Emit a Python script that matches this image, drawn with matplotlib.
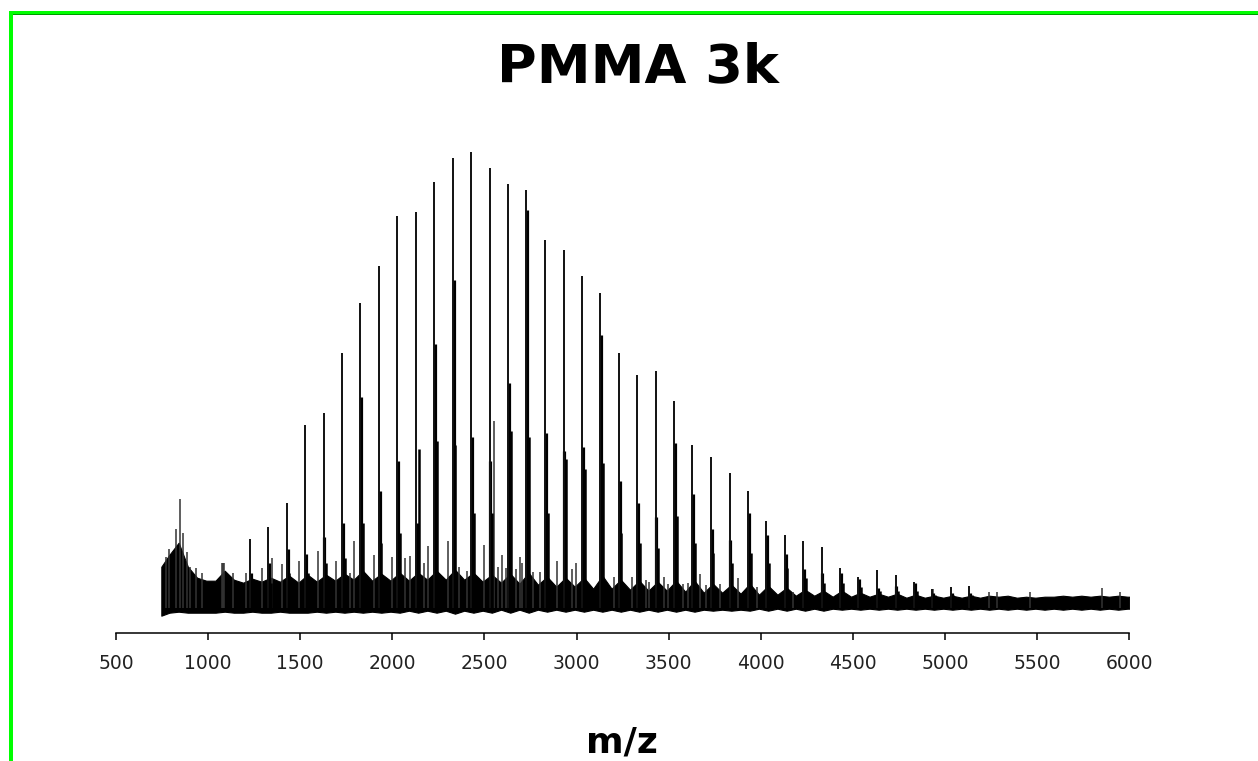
import numpy as np
import matplotlib.pyplot as plt
from matplotlib.patches import Rectangle

# ---- data (intensity in arbitrary units) ----
xticks = [500, 1000, 1500, 2000, 2500, 3000, 3500, 4000, 4500, 5000, 5500, 6000]

# main PMMA series
main_mz = [1227, 1327, 1427, 1527, 1627, 1727, 1827, 1927, 2027, 2128,
           2228, 2328, 2428, 2528, 2628, 2728, 2829, 2929, 3029, 3129,
           3229, 3329, 3429, 3529, 3629, 3729, 3830, 3930, 4030, 4130,
           4230, 4330, 4430, 4530, 4631, 4731, 4831, 4931, 5031, 5131]
main_int = [94, 106, 130, 208, 220, 280, 330, 367, 417, 421,
            451, 475, 481, 465, 449, 443, 393, 383, 357, 340,
            280, 258, 262, 232, 188, 176, 160, 142, 112, 98,
            92, 86, 65, 56, 63, 58, 51, 44, 46, 47]
# shoulders next to each main peak (the thick black part)
shoulder1_int = [60, 70, 84, 79, 96, 110, 236, 142, 172, 110,
                 289, 353, 196, 172, 250, 423, 200, 182, 186, 298,
                 152, 130, 116, 190, 139, 104, 93, 120, 98, 79,
                 64, 60, 60, 54, 45, 47, 50, 40, 40, 40]
shoulder2_int = [45, 50, 60, 60, 70, 75, 110, 90, 100, 184,
                 192, 188, 120, 120, 202, 196, 120, 174, 164, 170,
                 100, 90, 85, 117, 90, 80, 70, 80, 70, 65,
                 55, 50, 50, 46, 42, 42, 42, 38, 38, 38]

# smaller spikes sticking out of the noise
minor_mz = [769, 789, 826, 847, 862, 884, 902, 933, 965, 1073,
            1080, 1086, 1133, 1206, 1291, 1345, 1399, 1495, 1598, 1692,
            1770, 1793, 1900, 1996, 2069, 2096, 2173, 2195, 2300, 2363,
            2403, 2497, 2553, 2572, 2595, 2617, 2671, 2693, 2705, 2765,
            2801, 2895, 2975, 2997, 3204, 3299, 3377, 3395, 3476, 3498,
            3579, 3606, 3670, 3702, 3778, 3874, 3977, 4176, 4934, 5240,
            5280, 5460, 5850, 5948]
minor_int = [76, 84, 104, 134, 100, 81, 66, 65, 60, 70,
             70, 70, 60, 60, 65, 75, 69, 72, 82, 72,
             60, 92, 78, 76, 75, 77, 70, 87, 92, 66,
             62, 88, 212, 66, 78, 65, 64, 76, 70, 61,
             61, 72, 64, 70, 56, 56, 53, 51, 56, 49,
             49, 50, 59, 48, 49, 55, 46, 41, 44, 41,
             41, 41, 45, 41]

# noise band envelope
band_mz = [746, 790, 840, 890, 940, 990,
           1040, 1090, 1140, 1190, 1240, 1290, 1340, 1390, 1440, 1490,
           1540, 1590, 1640, 1690, 1740, 1790, 1840, 1890, 1940, 1990,
           2040, 2090, 2140, 2190, 2240, 2290, 2340, 2390, 2440, 2490,
           2540, 2590, 2640, 2690, 2740, 2790, 2840, 2890, 2940, 2990,
           3040, 3090, 3140, 3190, 3240, 3290, 3340, 3390, 3440, 3490,
           3540, 3590, 3640, 3690, 3740, 3790, 3840, 3890, 3940, 3990,
           4040, 4090, 4140, 4190, 4240, 4290, 4340, 4390, 4440, 4490,
           4540, 4590, 4640, 4690, 4740, 4790, 4840, 4890, 4940, 4990,
           5040, 5090, 5140, 5190, 5240, 5290, 5340, 5390, 5440, 5490,
           5540, 5590, 5640, 5690, 5740, 5790, 5840, 5890, 5940, 5990, 6000]
band_top = [66, 78, 90, 66, 55, 52,
            52, 62, 53, 50, 54, 51, 55, 51, 57, 50,
            58, 51, 58, 52, 59, 53, 62, 52, 59, 52,
            60, 52, 60, 53, 62, 53, 63, 53, 60, 51,
            58, 50, 59, 49, 60, 48, 56, 46, 55, 46,
            55, 44, 57, 44, 53, 43, 52, 42, 51, 42,
            52, 41, 52, 40, 49, 40, 48, 39, 49, 38,
            47, 38, 45, 37, 43, 37, 42, 36, 42, 36,
            40, 36, 39, 36, 39, 35, 38, 35, 37, 35,
            37, 35, 37, 35, 37, 36, 37, 35, 36, 35,
            36, 36, 37, 36, 37, 36, 37, 36, 37, 36, 36]
band_bot = [17, 20, 21, 20, 20, 20,
            20, 21, 20, 20, 21, 20, 20, 21, 20, 20,
            20, 21, 20, 21, 20, 21, 20, 21, 20, 21,
            20, 22, 20, 22, 20, 22, 19, 22, 20, 22,
            20, 23, 20, 23, 20, 23, 21, 23, 21, 23,
            21, 23, 21, 23, 21, 23, 21, 23, 21, 23,
            21, 23, 21, 23, 22, 23, 22, 23, 22, 24,
            22, 24, 22, 24, 22, 24, 22, 24, 23, 24,
            23, 24, 23, 24, 23, 24, 23, 24, 23, 24,
            23, 24, 23, 24, 23, 24, 23, 24, 23, 24,
            23, 24, 23, 24, 23, 24, 23, 24, 23, 24, 24]

W, H = 1258, 761
fig = plt.figure(figsize=(W / 100, H / 100), dpi=100)
ax = fig.add_axes([116 / W, 1 - 632.7 / H, 1013.3 / W, 492.7 / H])

ax.fill_between(band_mz, band_bot, band_top, color='black', lw=0.8)
ax.vlines(minor_mz, 25, minor_int, color='#333333', lw=1.1)
ax.vlines(np.array(main_mz) + 14, 25, shoulder2_int, color='black', lw=1.8)
ax.vlines(np.array(main_mz) + 4, 25, shoulder1_int, color='black', lw=2.3)
ax.vlines(main_mz, 25, main_int, color='#111111', lw=1.4)

ax.set_xlim(500, 6000)
ax.set_ylim(0, 492.7)
for s in ['left', 'right', 'top']:
    ax.spines[s].set_visible(False)
ax.spines['bottom'].set_linewidth(1.1)
ax.set_yticks([])
ax.set_xticks(xticks)
ax.set_xticklabels([str(t) for t in xticks])
ax.tick_params(axis='x', length=5, width=1.1, pad=10, labelsize=13.5, labelcolor='#222222')

fig.text(638 / W, 1 - 82 / H, 'PMMA 3k', ha='center', va='baseline',
         fontsize=39, fontweight='bold')
fig.text(621.5 / W, 1 - 752 / H, 'm/z', ha='center', va='baseline',
         fontsize=26, fontweight='bold')

# green frame on left and top
fig.add_artist(Rectangle((9 / W, 0), 3.7 / W, 1 - 11 / H, transform=fig.transFigure,
                         color='#00ff00', lw=0))
fig.add_artist(Rectangle((9 / W, 1 - 13.7 / H), 1, 2.7 / H, transform=fig.transFigure,
                         color='#00ff00', lw=0))
fig.add_artist(Rectangle((12.7 / W, 1 - 15.3 / H), 1, 1.6 / H, transform=fig.transFigure,
                         color='#009a00', lw=0))

fig.savefig('out.png', dpi=100)
